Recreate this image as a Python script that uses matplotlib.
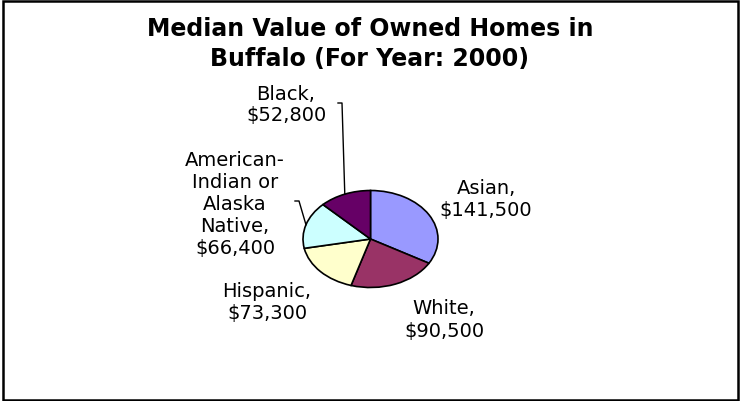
import numpy as np
import matplotlib
matplotlib.use("Agg")
import matplotlib.pyplot as plt
from matplotlib.patches import Rectangle
from matplotlib.lines import Line2D

# данные
groups = ["Asian", "White", "Hispanic", "American-\nIndian or\nAlaska\nNative", "Black"]
values = [141500, 90500, 73300, 66400, 52800]
colors = ["#9999FF", "#993366", "#FFFFCC", "#CCFFFF", "#660066"]

W, H = 741, 402
plt.rcParams["font.family"] = ["DejaVu Sans"]

fig = plt.figure(figsize=(W / 100, H / 100), dpi=100)
ax = fig.add_axes([0, 0, 1, 1])

# пирог растянут по горизонтали (как в исходной картинке)
cx, cy, rx, ry = 370.5, 240, 67.5, 48.5
k = rx / ry
wedges, _ = ax.pie(values, colors=colors, startangle=90, counterclock=False,
                   center=(cx, (H - cy) * k), radius=rx,
                   wedgeprops=dict(edgecolor="black", linewidth=1.2))
ax.set_aspect("auto")
ax.set_xlim(0, W)
ax.set_ylim(0, H * k)
ax.axis("off")

def px(x, y):
    return x / W, 1 - y / H

# заголовок
fig.text(*px(370, 44), "Median Value of Owned Homes in\nBuffalo (For Year: 2000)",
         ha="center", va="center", fontsize=17, fontweight="bold", linespacing=1.3)

# подписи: позиции центров в пикселях
label_pos = [(486, 200), (444, 320), (267, 303), (235, 205), (286, 105)]
for name, v, (x, y) in zip(groups, values, label_pos):
    fig.text(*px(x, y), f"{name},\n${v:,}", ha="center", va="center",
             fontsize=14, linespacing=1.2, color="black")

# выноски для Black и American-Indian
def edge_point(w):
    a = np.deg2rad((w.theta1 + w.theta2) / 2)
    return cx + rx * np.cos(a), cy - ry * np.sin(a)

for idx, x0, x1, y0 in [(4, 338, 342, 104), (3, 295, 299, 202)]:
    ex, ey = edge_point(wedges[idx])
    xs = [x0, x1, ex]
    ys = [y0, y0, ey]
    fig.add_artist(Line2D([x / W for x in xs], [1 - y / H for y in ys],
                          color="black", linewidth=1.0, transform=fig.transFigure))

# рамка
fig.add_artist(Rectangle((2.5 / W, 1.5 / H), 735.5 / W, 398.5 / H, fill=False,
                         edgecolor="black", linewidth=1.8, transform=fig.transFigure))

fig.savefig("out.png", dpi=100, facecolor="white")
